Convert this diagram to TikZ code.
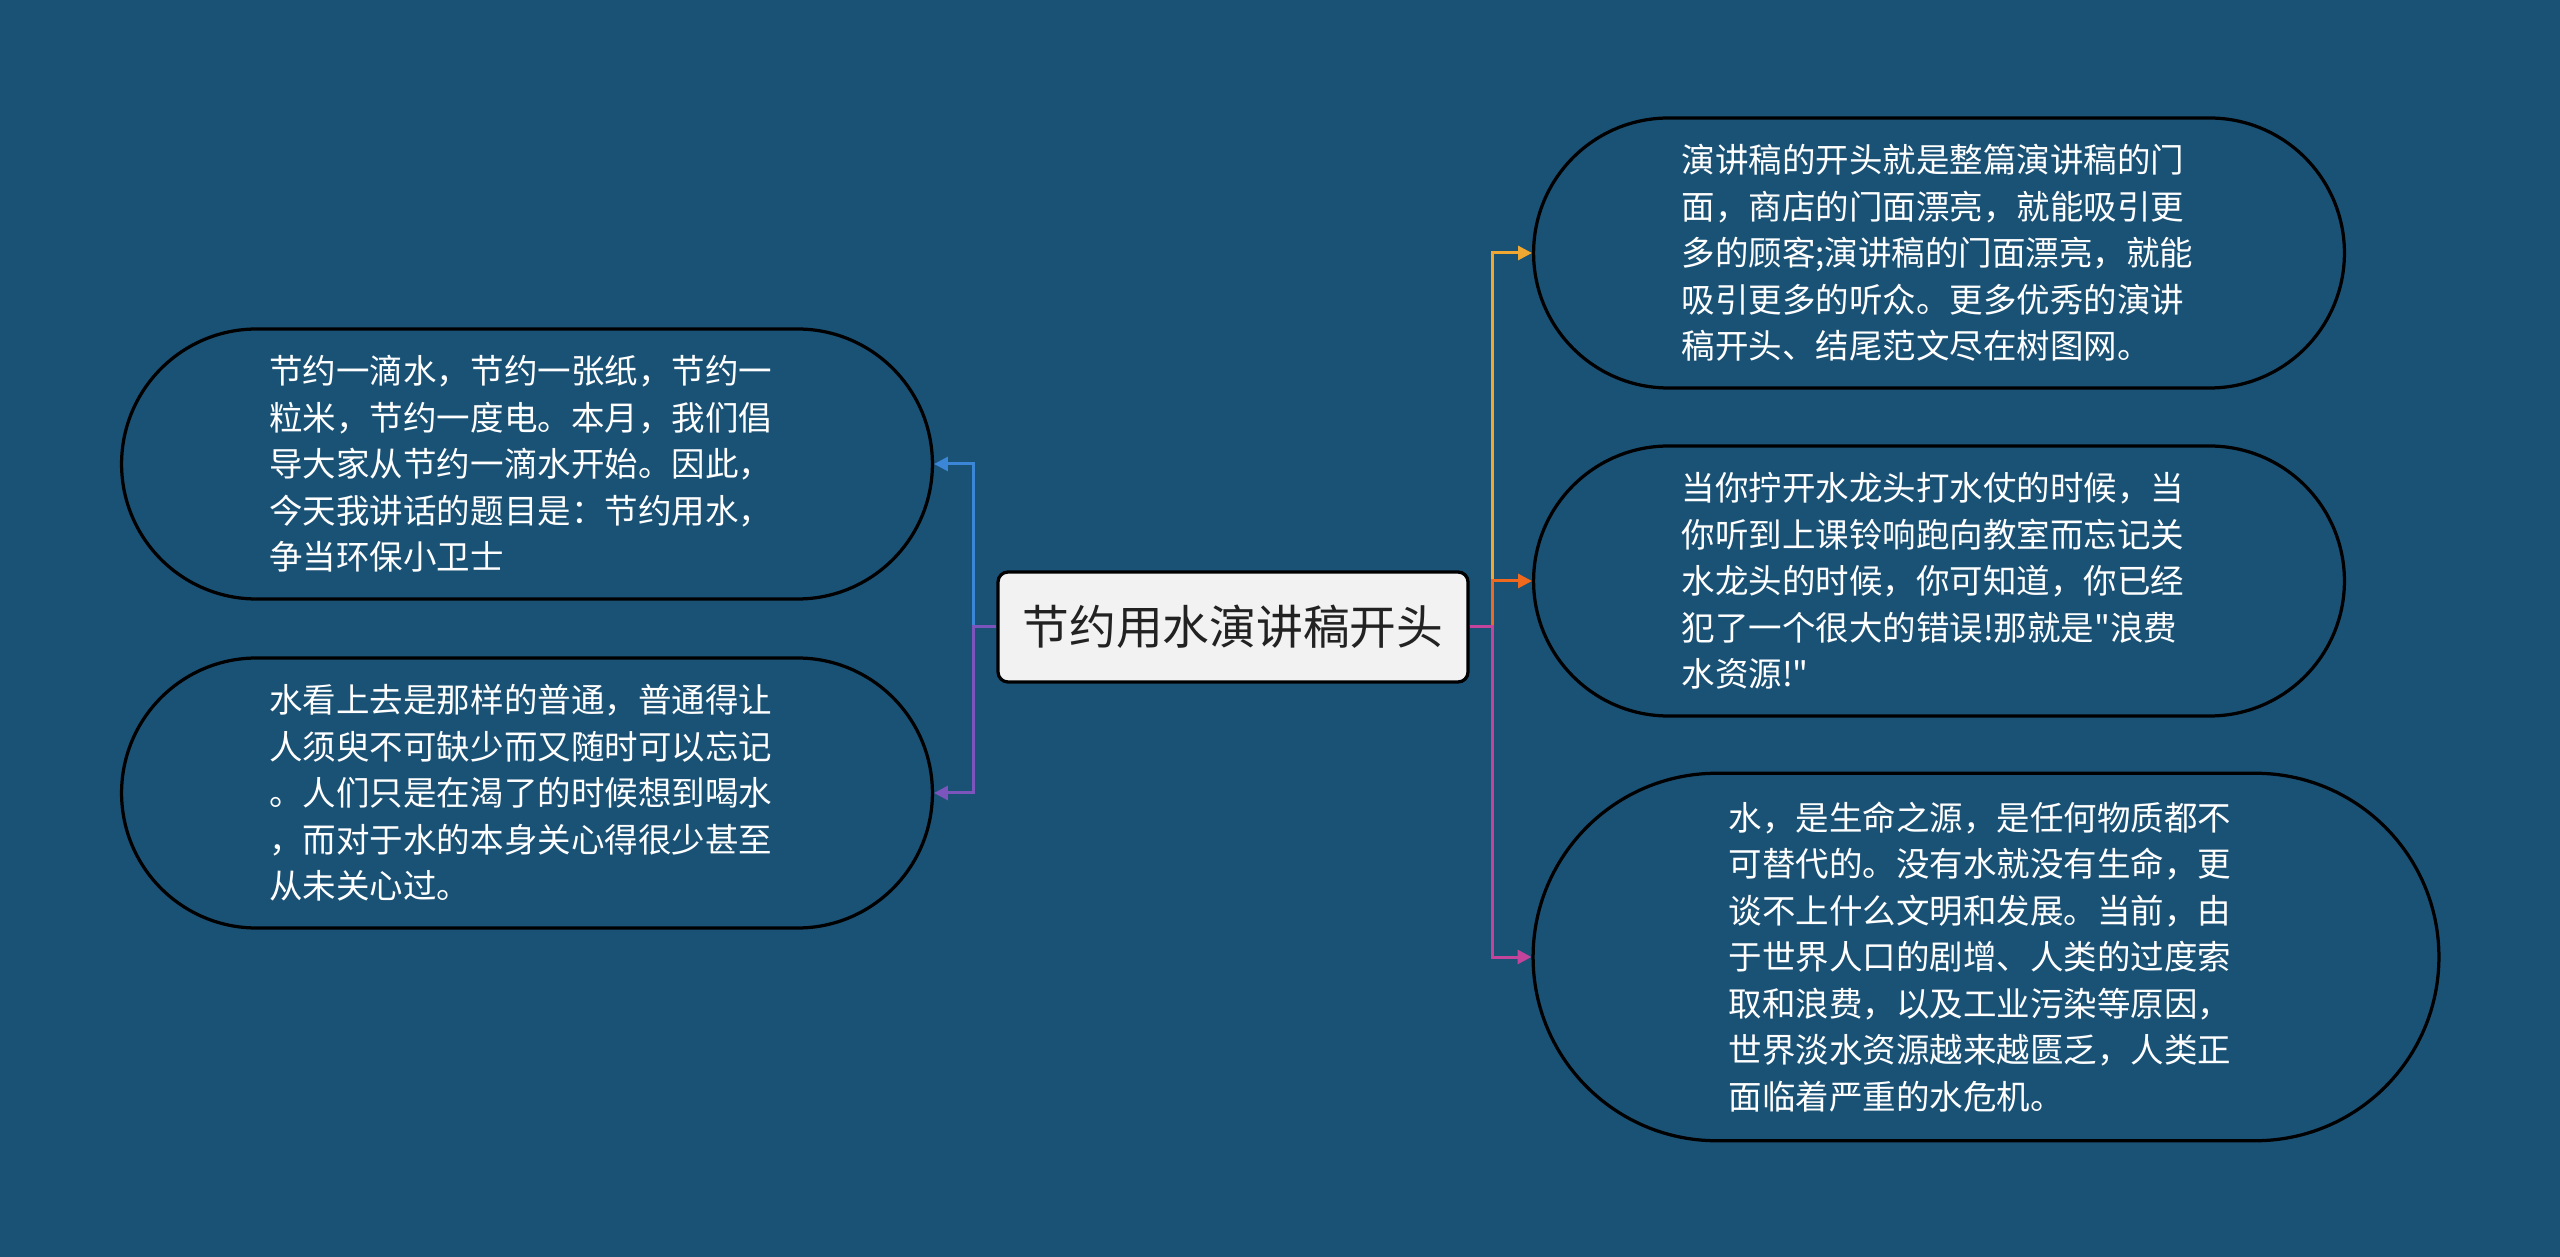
\documentclass[tikz,border=0pt]{standalone}
\usepackage{fontspec}
\setmainfont{Noto Sans CJK SC}[Ligatures=TeXOff]
\usepackage{tikz}
\usetikzlibrary{arrows.meta,positioning,shapes.misc}
\definecolor{bgblue}{HTML}{1A5276}
\definecolor{rootgray}{HTML}{F2F2F2}
\definecolor{rootink}{HTML}{222222}
\definecolor{blueline}{HTML}{3B86D6}
\definecolor{purpleline}{HTML}{7C55BC}
\definecolor{goldline}{HTML}{F1A832}
\definecolor{orangeline}{HTML}{EF6A1E}
\definecolor{magentaline}{HTML}{C4449C}

\begin{document}
\begin{tikzpicture}[
  x=0.4pt, y=-0.4pt,
  rootbox/.style={draw=black, line width=1.3pt, fill=rootgray, rounded corners=4pt, minimum width=188pt, minimum height=44pt, text=rootink, font=\fontsize{18.7}{22}\selectfont},
  topicbox/.style={rounded rectangle, draw=black, line width=1.3pt, fill=bgblue, text=white, align=left, text width=206pt, font=\fontsize{13.4}{18.6}\selectfont},
  link/.style={-{Triangle[length=5.5pt,width=5.5pt]}, line width=1.2pt}
]

% Background
\fill[bgblue] (0,0) rectangle (2560,1257);
\useasboundingbox (0,0) rectangle (2560,1257);

% Root
\node[rootbox] (root) at (1233,627) {节约用水演讲稿开头};

% Left topics
\node[topicbox, minimum width=331pt, minimum height=108pt] (saving) at (527,464) {节约一滴水，节约一张纸，节约一\\粒米，节约一度电。本月，我们倡\\导大家从节约一滴水开始。因此，\\今天我讲话的题目是：节约用水，\\争当环保小卫士};
\node[topicbox, minimum width=331pt, minimum height=108pt] (common) at (527,793) {水看上去是那样的普通，普通得让\\人须臾不可缺少而又随时可以忘记\\。人们只是在渴了的时候想到喝水\\，而对于水的本身关心得很少甚至\\从未关心过。};

% Right topics
\node[topicbox, minimum width=331pt, minimum height=108pt] (opening) at (1939,253) {演讲稿的开头就是整篇演讲稿的门\\面，商店的门面漂亮，就能吸引更\\多的顾客;演讲稿的门面漂亮，就能\\吸引更多的听众。更多优秀的演讲\\稿开头、结尾范文尽在树图网。};
\node[topicbox, minimum width=331pt, minimum height=108pt] (faucet) at (1939,581) {当你拧开水龙头打水仗的时候，当\\你听到上课铃响跑向教室而忘记关\\水龙头的时候，你可知道，你已经\\犯了一个很大的错误!那就是"浪费\\水资源!"};
\node[topicbox, minimum width=369pt, minimum height=147pt] (source) at (1986,957) {水，是生命之源，是任何物质都不\\可替代的。没有水就没有生命，更\\谈不上什么文明和发展。当前，由\\于世界人口的剧增、人类的过度索\\取和浪费，以及工业污染等原因，\\世界淡水资源越来越匮乏，人类正\\面临着严重的水危机。};

% Links left
\draw[link, blueline] (root.west) -- ++(-23,0) |- (saving.east);
\draw[link, purpleline] (root.west) -- ++(-23,0) |- (common.east);

% Links right
\draw[link, goldline] (root.east) -- ++(23,0) |- (opening.west);
\draw[link, orangeline] (root.east) -- ++(23,0) |- (faucet.west);
\draw[link, magentaline] (root.east) -- ++(23,0) |- (source.west);

\end{tikzpicture}
\end{document}
